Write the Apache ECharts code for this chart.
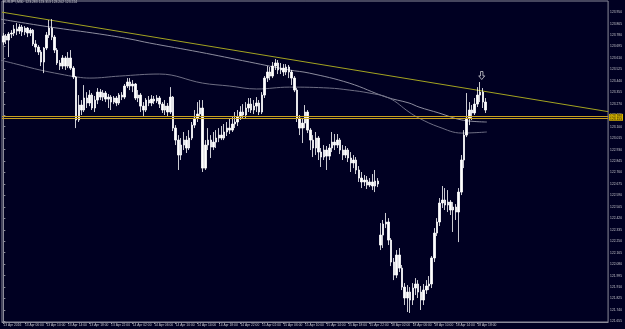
<!DOCTYPE html>
<html><head><meta charset="utf-8">
<script src="https://cdn.jsdelivr.net/npm/echarts@6/dist/echarts.min.js"></script>
<style>html,body{margin:0;padding:0;background:#000022;}#c{width:625px;height:329px;}</style>
</head><body><div id="c"></div><script>
const chartTitle = 'EURJPY,M30  123.283 123.313 123.202 123.224';
const openP = [
123.728,123.773,123.743,123.788,123.795,123.825,123.810,123.840,123.803,123.832,
123.795,123.817,123.714,123.691,123.654,123.580,123.684,123.780,123.832,123.765,
123.669,123.573,123.550,123.610,123.550,123.610,123.535,123.469,123.150,123.261,
123.224,123.313,123.276,123.335,123.239,123.298,123.357,123.320,123.350,123.305,
123.320,123.283,123.313,123.276,123.335,123.320,123.402,123.432,123.402,123.417,
123.313,123.335,123.253,123.224,123.298,123.276,123.305,123.291,123.313,123.268,
123.224,123.253,123.209,123.320,123.090,123.001,122.890,122.964,123.001,122.942,
123.016,123.112,123.164,123.194,123.239,122.793,122.964,123.001,122.949,122.986,
123.016,123.038,123.016,123.061,123.090,123.075,123.120,123.135,123.172,123.209,
123.187,123.239,123.268,123.224,123.253,123.276,123.209,123.335,123.461,123.506,
123.476,123.550,123.573,123.521,123.535,123.506,123.543,123.506,123.461,123.372,
123.164,123.090,123.127,123.209,123.075,123.001,122.942,123.016,122.912,122.875,
122.927,122.882,122.942,122.986,122.964,123.001,122.927,122.890,122.927,122.868,
122.831,122.853,122.779,122.719,122.690,122.704,122.667,122.690,122.660,122.697,
122.222,122.296,122.378,122.393,122.259,122.096,121.999,122.148,122.051,121.910,
121.829,121.873,121.814,121.903,121.933,121.873,121.814,121.888,121.918,121.933,
122.126,122.311,122.393,122.534,122.556,122.519,122.541,122.482,122.504,122.467,
122.615,122.853,123.038,123.164,123.224,123.202,123.268,123.335,123.357,123.283];
const closeP = [
123.773,123.743,123.788,123.795,123.825,123.810,123.840,123.803,123.832,123.795,
123.817,123.714,123.691,123.654,123.580,123.684,123.780,123.832,123.765,123.669,
123.573,123.550,123.610,123.550,123.610,123.535,123.469,123.150,123.261,123.224,
123.313,123.276,123.335,123.239,123.298,123.357,123.320,123.350,123.305,123.320,
123.283,123.313,123.276,123.335,123.320,123.402,123.432,123.402,123.417,123.313,
123.335,123.253,123.224,123.298,123.276,123.305,123.291,123.313,123.268,123.224,
123.253,123.209,123.320,123.090,123.001,122.890,122.964,123.001,122.942,123.016,
123.112,123.164,123.194,123.239,122.793,122.964,123.001,122.949,122.986,123.016,
123.038,123.016,123.061,123.090,123.075,123.120,123.135,123.172,123.209,123.187,
123.239,123.268,123.224,123.253,123.276,123.209,123.335,123.461,123.506,123.476,
123.550,123.573,123.521,123.535,123.506,123.543,123.506,123.461,123.372,123.164,
123.090,123.127,123.209,123.075,123.001,122.942,123.016,122.912,122.875,122.927,
122.882,122.942,122.986,122.964,123.001,122.927,122.890,122.927,122.868,122.831,
122.853,122.779,122.719,122.690,122.704,122.667,122.690,122.660,122.697,122.675,
122.296,122.378,122.393,122.259,122.096,121.999,122.148,122.051,121.910,121.829,
121.873,121.814,121.903,121.933,121.873,121.814,121.888,121.918,121.933,122.126,
122.311,122.393,122.534,122.556,122.519,122.541,122.482,122.504,122.467,122.615,
122.853,123.038,123.164,123.224,123.202,123.268,123.335,123.357,123.283,123.224];
const highP = [
123.795,123.788,123.803,123.817,123.855,123.869,123.862,123.855,123.847,123.840,
123.832,123.825,123.743,123.706,123.669,123.691,123.803,123.892,123.899,123.780,
123.684,123.595,123.632,123.624,123.654,123.669,123.550,123.476,123.335,123.298,
123.409,123.357,123.372,123.350,123.328,123.387,123.380,123.372,123.365,123.343,
123.335,123.328,123.328,123.350,123.357,123.417,123.461,123.461,123.446,123.424,
123.372,123.350,123.283,123.313,123.328,123.335,123.328,123.335,123.328,123.283,
123.298,123.276,123.394,123.328,123.112,123.038,123.016,123.061,123.031,123.075,
123.135,123.224,123.283,123.298,123.298,123.001,123.090,123.038,123.061,123.075,
123.090,123.105,123.120,123.135,123.164,123.179,123.209,123.224,123.253,123.268,
123.283,123.313,123.313,123.298,123.320,123.298,123.357,123.476,123.550,123.543,
123.580,123.602,123.595,123.573,123.565,123.565,123.558,123.521,123.476,123.387,
123.187,123.164,123.261,123.224,123.090,123.038,123.061,123.031,122.942,122.964,
122.957,122.972,123.061,123.046,123.046,123.016,122.964,122.957,122.942,122.912,
122.890,122.875,122.808,122.764,122.742,122.734,122.719,122.749,122.779,122.719,
122.385,122.408,122.460,122.422,122.274,122.126,122.185,122.200,122.074,121.940,
121.925,121.910,121.940,121.977,121.962,121.918,121.933,121.962,121.992,122.140,
122.348,122.422,122.571,122.660,122.645,122.630,122.556,122.541,122.526,122.645,
122.890,123.075,123.350,123.283,123.261,123.313,123.394,123.432,123.387,123.313];
const lowP = [
123.706,123.714,123.617,123.758,123.773,123.780,123.788,123.773,123.780,123.765,
123.773,123.699,123.654,123.632,123.550,123.498,123.669,123.758,123.743,123.647,
123.558,123.521,123.528,123.521,123.535,123.521,123.454,123.090,123.135,123.187,
123.209,123.239,123.253,123.224,123.209,123.268,123.298,123.291,123.283,123.239,
123.224,123.268,123.253,123.261,123.298,123.305,123.387,123.372,123.357,123.298,
123.283,123.209,123.172,123.209,123.253,123.253,123.268,123.276,123.239,123.202,
123.187,123.179,123.194,123.068,122.964,122.779,122.853,122.927,122.905,122.927,
123.001,123.090,123.135,123.172,122.764,122.779,122.927,122.868,122.927,122.942,
122.986,123.001,123.001,123.031,123.046,123.061,123.090,123.105,123.150,123.164,
123.164,123.209,123.202,123.194,123.209,123.187,123.194,123.313,123.432,123.446,
123.461,123.521,123.491,123.491,123.476,123.483,123.461,123.409,123.357,123.135,
123.038,122.979,123.090,123.053,122.927,122.875,122.890,122.853,122.801,122.853,
122.779,122.853,122.912,122.927,122.942,122.897,122.853,122.868,122.838,122.764,
122.793,122.749,122.690,122.645,122.660,122.638,122.652,122.630,122.615,122.652,
122.185,122.200,122.348,122.222,122.066,121.962,121.977,122.022,121.888,121.777,
121.725,121.718,121.777,121.851,121.829,121.740,121.777,121.859,121.888,121.903,
122.096,122.289,122.363,122.497,122.482,122.467,122.445,122.319,122.408,122.244,
122.593,122.793,123.023,123.112,123.150,123.187,123.246,123.283,123.239,123.202];

const xTickLabels = ['13 Apr 2016','13 Apr 06:00','13 Apr 10:00','13 Apr 14:00','13 Apr 18:00','13 Apr 22:00',
'14 Apr 02:00','14 Apr 06:00','14 Apr 10:00','14 Apr 14:00','14 Apr 18:00','14 Apr 22:00',
'15 Apr 02:00','15 Apr 06:00','15 Apr 10:00','15 Apr 14:00','15 Apr 18:00','15 Apr 22:00',
'18 Apr 02:00','18 Apr 06:00','18 Apr 10:00','18 Apr 14:00','18 Apr 18:00'];
const barsPerLabel = 8;
const totalSlots = 225;
const yTickValues = [121.655,121.740,121.825,121.910,121.995,122.080,122.165,122.250,122.335,122.420,
122.505,122.590,122.675,122.760,122.845,122.930,123.015,123.100,123.185,123.270,123.355,123.440,
123.525,123.610,123.695,123.780,123.865,123.950];
const levelLines = [123.180, 123.155];
const bidPrice = 123.224;
const trendX = [-0.5, 224.5];
const trendY = [123.950, 123.212];
const maSlowX = [-1.2,17.3,35.8,47.0,54.3,72.8,91.4,106.2,113.6,128.4,142.1,150.6,154.3,161.7,170.2,179.5];
const maSlowY = [123.899,123.840,123.788,123.751,123.721,123.654,123.580,123.521,123.498,123.424,123.320,123.276,123.246,123.202,123.150,123.135];
const maFastX = [-1.2,6.2,13.6,21.0,27.3,32.1,43.2,58.0,73.9,84.0,94.0,106.2,121.0,128.4,135.8,143.2,150.6,154.3,161.7,170.2,179.5];
const maFastY = [123.595,123.558,123.521,123.491,123.469,123.461,123.476,123.491,123.424,123.402,123.380,123.394,123.387,123.372,123.350,123.313,123.209,123.164,123.098,123.053,123.061];
const arrowX = [177.6];
const arrowY = [123.480];

const FONT = 'Liberation Sans, Arial, sans-serif';
const TXT = '#c4c4cc';
const FRAME = '#8a8a99';
const chart = echarts.init(document.getElementById('c'), null, {renderer:'canvas'});
const cats = Array.from({length: totalSlots}, (_, i) => i);
const candles = openP.map((o, i) => [o, closeP[i], lowP[i], highP[i]]);
const isLabel = (idx) => idx % barsPerLabel === 0 && idx / barsPerLabel < xTickLabels.length;
const zip = (xs, ys) => xs.map((x, i) => [x, ys[i]]);

chart.setOption({
  animation: false,
  backgroundColor: '#000022',
  title: { text: chartTitle, left: 3, top: 1, padding: 0,
    textStyle: { color: TXT, fontSize: 3.4, fontWeight: 'normal', fontFamily: FONT } },
  grid: { left: 2, right: 15, top: 1, bottom: 7, show: true, borderColor: FRAME, borderWidth: 1, backgroundColor: 'transparent' },
  xAxis: [
    { type: 'category', data: cats, boundaryGap: true,
      axisLine: { show: true, lineStyle: { color: FRAME } },
      axisTick: { show: true, interval: isLabel, alignWithLabel: true, length: 2, lineStyle: { color: FRAME } },
      axisLabel: { interval: isLabel, formatter: (v, idx) => xTickLabels[idx / barsPerLabel] || '',
        align: 'left', margin: 2, fontSize: 3.3, color: TXT, fontFamily: FONT },
      splitLine: { show: false } },
    { type: 'value', min: -0.5, max: totalSlots - 0.5, show: false }
  ],
  yAxis: { type: 'value', position: 'right', min: 121.651, max: 124.033,
    axisLine: { show: true, lineStyle: { color: FRAME } },
    axisTick: { show: true, customValues: yTickValues, length: 2, lineStyle: { color: FRAME } },
    axisLabel: { customValues: yTickValues, formatter: v => v.toFixed(3), fontSize: 3.3, color: TXT, margin: 2, fontFamily: FONT },
    splitLine: { show: false } },
  series: [
    { type: 'line', xAxisIndex: 1, data: zip(maSlowX, maSlowY), showSymbol: false, smooth: 0.4, clip: true,
      lineStyle: { color: '#8c8c9e', width: 1 }, z: 1 },
    { type: 'line', xAxisIndex: 1, data: zip(maFastX, maFastY), showSymbol: false, smooth: 0.4, clip: true,
      lineStyle: { color: '#6e6e84', width: 1 }, z: 1 },
    { type: 'line', xAxisIndex: 1, data: zip(trendX, trendY), showSymbol: false, clip: true,
      lineStyle: { color: '#a3a320', width: 1 }, z: 1 },
    { type: 'candlestick', xAxisIndex: 0, data: candles, barWidth: 2, z: 3,
      itemStyle: { color: '#ffffff', color0: '#ffffff', borderColor: '#ffffff', borderColor0: '#ffffff', borderWidth: 0.8 },
      markLine: { symbol: 'none', silent: true, animation: false,
        data: levelLines.map(v => ({ yAxis: v, lineStyle: { color: '#c8a020', width: 1, type: 'solid' },
          label: { show: true, position: 'end', distance: 1, formatter: v.toFixed(3), color: '#000000',
            backgroundColor: '#d8b400', padding: [0.6, 1], fontSize: 3.3, fontFamily: FONT } }))
          .concat([{ yAxis: bidPrice, lineStyle: { opacity: 0, width: 0 },
            label: { show: true, position: 'end', distance: 1, formatter: bidPrice.toFixed(3), color: '#000000',
              backgroundColor: '#e8e8ee', padding: [0.6, 1], fontSize: 3.3, fontFamily: FONT } }])
      } },
    { type: 'scatter', xAxisIndex: 1, data: zip(arrowX, arrowY), z: 4,
      symbol: 'path://M3,0 L7,0 L7,6 L10,6 L5,11 L0,6 L3,6 Z', symbolSize: [6, 8],
      itemStyle: { color: '#000022', borderColor: '#ffffff', borderWidth: 0.8 } }
  ]
});
</script></body></html>
